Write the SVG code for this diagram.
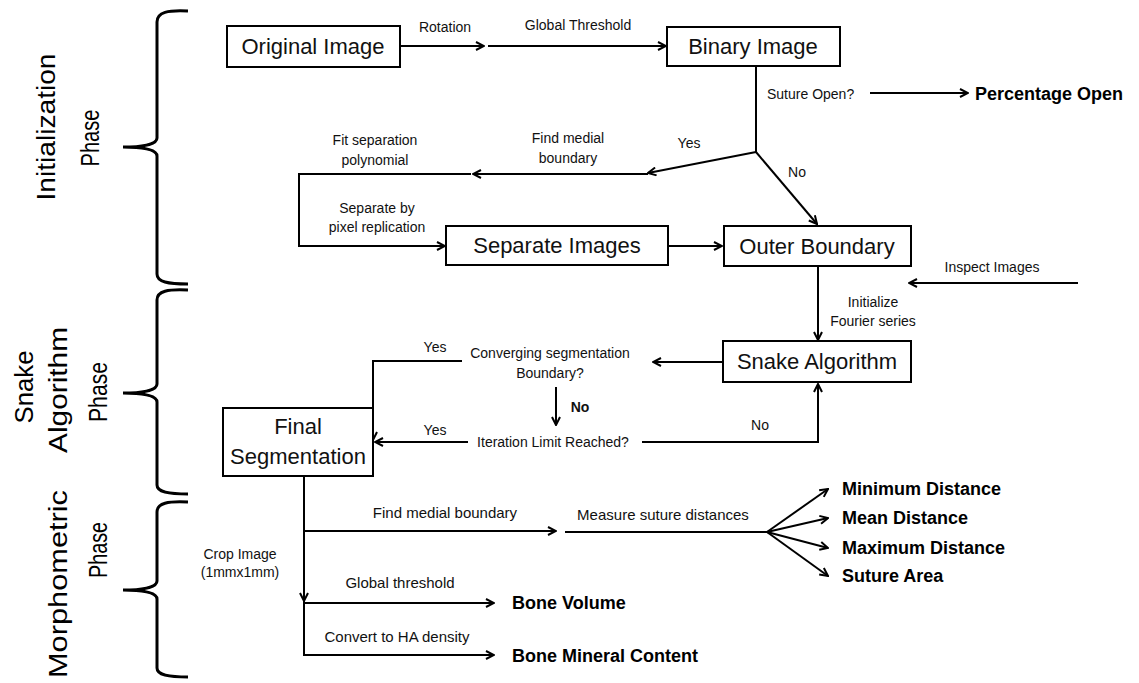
<svg xmlns="http://www.w3.org/2000/svg" width="1139" height="683" viewBox="0 0 1139 683">
<defs>
<marker id="ah" viewBox="0 0 10 10" refX="9" refY="5" markerWidth="10" markerHeight="10" markerUnits="userSpaceOnUse" orient="auto">
<path d="M1,1 L9,5 L1,9" fill="none" stroke="#000" stroke-width="2"/>
</marker>
</defs>
<style>
.box{fill:#fff;stroke:#000;stroke-width:2}
.bt{font-family:"Liberation Sans",Arial,sans-serif;font-size:22px;fill:#111;text-anchor:middle}
.lb{font-family:"Liberation Sans",Arial,sans-serif;font-size:14px;fill:#111;text-anchor:middle}
.out{font-family:"Liberation Sans",Arial,sans-serif;font-size:18px;font-weight:bold;fill:#000}
.ph{font-family:"Liberation Sans",Arial,sans-serif;font-size:26px;fill:#000;text-anchor:middle}
.ln{fill:none;stroke:#000;stroke-width:2}
.ar{fill:none;stroke:#000;stroke-width:2;marker-end:url(#ah)}
.br{fill:none;stroke:#000;stroke-width:3}
</style>
<rect width="1139" height="683" fill="#fff"/>

<g id="phases">
<path class="br" d="M188,11 C168,10 157,12 157,22 L157,138 C157,145 140,147 123,147 C140,147 157,149 157,156 L157,274 C157,282 168,284 188,284"/>
<path class="br" d="M188,290 C168,289 157,291 157,300 L157,384 C157,391 140,393 123,393 C140,393 157,395 157,402 L157,485 C157,492 168,494 188,494"/>
<path class="br" d="M188,502 C168,501 157,503 157,512 L157,581 C157,588 140,590 123,590 C140,590 157,592 157,599 L157,668 C157,675 168,677 188,677"/>
<text class="ph" transform="translate(55,127) rotate(-90)" textLength="147" lengthAdjust="spacingAndGlyphs">Initialization</text>
<text class="ph" transform="translate(99,138) rotate(-90)" textLength="57" lengthAdjust="spacingAndGlyphs">Phase</text>
<text class="ph" transform="translate(33,387) rotate(-90)" textLength="73" lengthAdjust="spacingAndGlyphs">Snake</text>
<text class="ph" transform="translate(67,390) rotate(-90)" textLength="126" lengthAdjust="spacingAndGlyphs">Algorithm</text>
<text class="ph" transform="translate(107,392) rotate(-90)" textLength="60" lengthAdjust="spacingAndGlyphs">Phase</text>
<text class="ph" transform="translate(67,584) rotate(-90)" textLength="188" lengthAdjust="spacingAndGlyphs">Morphometric</text>
<text class="ph" transform="translate(107,550) rotate(-90)" textLength="56" lengthAdjust="spacingAndGlyphs">Phase</text>
</g>

<g id="connectors">
<path class="ar" d="M400,46 L484,46"/>
<path class="ar" d="M488,46 L666,46"/>
<path class="ln" d="M756,66 L756,152"/>
<path class="ar" d="M756,152 L648,173"/>
<path class="ar" d="M648,174 L473,174" stroke-width="1.6"/>
<path class="ar" d="M471,174 L299,174 L299,246 L445,246"/>
<path class="ar" d="M756,152 L817,224"/>
<path class="ar" d="M870,93 L968,93"/>
<path class="ar" d="M668,246 L722,246"/>
<path class="ar" d="M818,266 L818,340"/>
<path class="ar" d="M1078,283 L909,283" stroke="#444"/>
<path class="ar" d="M723,362 L653,362"/>
<path class="ar" d="M462,361 L373,361 L373,440"/>
<path class="ar" d="M468,442 L375,442"/>
<path class="ar" d="M556,387 L556,425"/>
<path class="ar" d="M642,442 L818,442 L818,384"/>
<path class="ar" d="M304,476 L304,601"/>
<path class="ar" d="M304,601 L304,655 L494,655"/>
<path class="ar" d="M304,603 L494,603"/>
<path class="ar" d="M304,531 L556,531" stroke-width="1.6"/>
<path class="ln" d="M565,532 L767,532"/>
<path class="ar" d="M767,532 L828,489"/>
<path class="ar" d="M767,532 L828,518"/>
<path class="ar" d="M767,532 L828,548"/>
<path class="ar" d="M767,532 L828,576"/>
</g>

<g id="labels">
<text class="lb" x="445" y="32">Rotation</text>
<text class="lb" x="578" y="30">Global Threshold</text>
<text class="lb" x="767" y="99" text-anchor="start" style="text-anchor:start">Suture Open?</text>
<text class="lb" x="689" y="148">Yes</text>
<text class="lb" x="568" y="143">Find medial</text>
<text class="lb" x="568" y="163">boundary</text>
<text class="lb" x="375" y="145">Fit separation</text>
<text class="lb" x="375" y="165">polynomial</text>
<text class="lb" x="797" y="177">No</text>
<text class="lb" x="377" y="213">Separate by</text>
<text class="lb" x="377" y="232">pixel replication</text>
<text class="lb" x="992" y="272">Inspect Images</text>
<text class="lb" x="873" y="307">Initialize</text>
<text class="lb" x="873" y="326">Fourier series</text>
<text class="lb" x="435" y="352">Yes</text>
<text class="lb" x="435" y="435">Yes</text>
<text class="lb" x="550" y="358">Converging segmentation</text>
<text class="lb" x="550" y="378">Boundary?</text>
<text class="lb" x="580" y="412" style="font-weight:bold">No</text>
<text class="lb" x="553" y="447">Iteration Limit Reached?</text>
<text class="lb" x="760" y="430">No</text>
<text class="lb" x="445" y="518" style="font-size:15px">Find medial boundary</text>
<text class="lb" x="663" y="520" style="font-size:15px">Measure suture distances</text>
<text class="lb" x="240" y="559">Crop Image</text>
<text class="lb" x="240" y="577">(1mmx1mm)</text>
<text class="lb" x="400" y="588" style="font-size:15px">Global threshold</text>
<text class="lb" x="397" y="642" style="font-size:15px">Convert to HA density</text>
</g>

<g id="outputs">
<text class="out" x="975" y="100">Percentage Open</text>
<text class="out" x="842" y="495">Minimum Distance</text>
<text class="out" x="842" y="524">Mean Distance</text>
<text class="out" x="842" y="554">Maximum Distance</text>
<text class="out" x="842" y="582">Suture Area</text>
<text class="out" x="512" y="609">Bone Volume</text>
<text class="out" x="512" y="662">Bone Mineral Content</text>
</g>

<g id="original-image"><rect class="box" x="227" y="26" width="173" height="41"/><text class="bt" x="313" y="54">Original Image</text></g>
<g id="binary-image"><rect class="box" x="667" y="27" width="173" height="39"/><text class="bt" x="753" y="54">Binary Image</text></g>
<g id="separate-images"><rect class="box" x="446" y="226" width="222" height="39"/><text class="bt" x="557" y="253">Separate Images</text></g>
<g id="outer-boundary"><rect class="box" x="724" y="226" width="187" height="40"/><text class="bt" x="817" y="254">Outer Boundary</text></g>
<g id="snake-algorithm"><rect class="box" x="723" y="341" width="188" height="41"/><text class="bt" x="817" y="369">Snake Algorithm</text></g>
<g id="final-segmentation"><rect class="box" x="223" y="408" width="150" height="68"/><text class="bt" x="298" y="434">Final</text><text class="bt" x="298" y="464">Segmentation</text></g>
</svg>
